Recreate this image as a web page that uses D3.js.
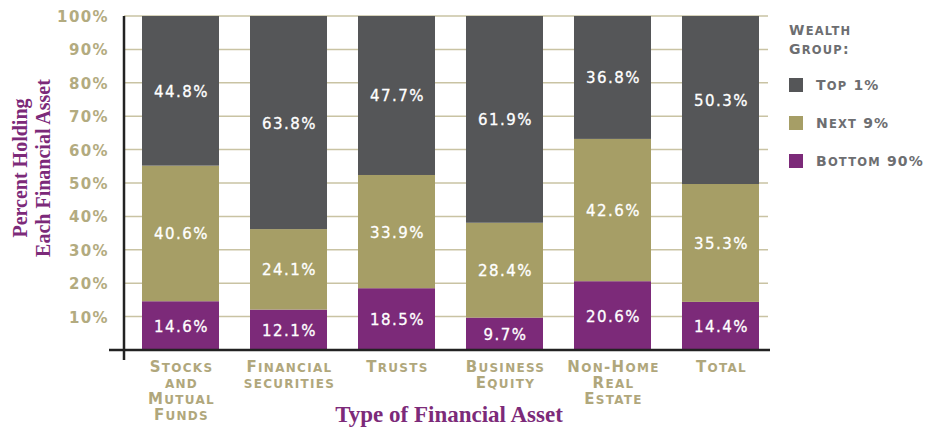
<!DOCTYPE html>
<html><head><meta charset="utf-8">
<script src="https://cdn.jsdelivr.net/npm/d3@7"></script>
<style>body{margin:0;background:#fff}svg{display:block}</style>
</head><body>
<svg id="chart" width="926" height="427"></svg>
<script>
const categories = [["Stocks","and","Mutual","Funds"],["Financial","securities"],["Trusts"],["Business","Equity"],["Non-Home","Real","Estate"],["Total"]];
const catKeys = ["Stocks and Mutual Funds","Financial securities","Trusts","Business Equity","Non-Home Real Estate","Total"];
const bottom90 = [14.6,12.1,18.5,9.7,20.6,14.4];
const next9 = [40.6,24.1,33.9,28.4,42.6,35.3];
const top1 = [44.8,63.8,47.7,61.9,36.8,50.3];
const seriesNames = ["Bottom 90%","Next 9%","Top 1%"];
const yTicks = [10,20,30,40,50,60,70,80,90,100];
const colors = {"Top 1%":"#555658","Next 9%":"#a69e66","Bottom 90%":"#7c2a79"};

const svg = d3.select("#chart");
const x = d3.scaleBand().domain(catKeys).range([142,759]).paddingInner(0.287).paddingOuter(0);
const y = d3.scaleLinear().domain([0,100]).range([350,16]);

// manual small caps: uppercase/other chars large, lowercase chars small uppercase
function smallCaps(sel, str, big, small){
  const parts=[]; let cur=null;
  for(const ch of str){
    const low = ch!==ch.toUpperCase();
    const sz = low?small:big;
    if(!cur||cur.sz!==sz){cur={sz,t:""};parts.push(cur);}
    cur.t+=ch.toUpperCase();
  }
  parts.forEach(p=>sel.append("tspan").attr("font-size",p.sz).text(p.t));
  return sel;
}

// gridlines
svg.append("g").selectAll("line").data(yTicks).join("line")
  .attr("x1",124).attr("x2",768).attr("y1",d=>y(d)).attr("y2",d=>y(d))
  .attr("stroke","#c9c3a3").attr("stroke-width",1.5);

// tick labels
svg.append("g").selectAll("text").data(yTicks).join("text")
  .attr("x",109).attr("y",d=>y(d)+6).attr("text-anchor","end")
  .attr("font-family","DejaVu Sans").attr("font-weight","bold").attr("font-size",15)
  .attr("letter-spacing",1.4).attr("fill","#b3ab80").text(d=>d+"%");

// stacked data
const rows = catKeys.map((c,i)=>({cat:c,"Bottom 90%":bottom90[i],"Next 9%":next9[i],"Top 1%":top1[i]}));
const stack = d3.stack().keys(seriesNames)(rows);
const segTop = v=>y(Math.min(100,v));
const gs = svg.append("g").selectAll("g").data(stack).join("g").attr("fill",d=>colors[d.key]);
gs.selectAll("rect").data(d=>d).join("rect")
  .attr("x",d=>x(d.data.cat)).attr("width",x.bandwidth())
  .attr("y",d=>segTop(d[1])).attr("height",d=>y(d[0])-segTop(d[1]));

// labels in bars
stack.forEach(s=>{
  svg.append("g").selectAll("text").data(s).join("text")
    .attr("x",d=>x(d.data.cat)+x.bandwidth()/2+1)
    .attr("y",d=>(y(d[0])+segTop(d[1]))/2+6)
    .attr("text-anchor","middle").attr("font-family","DejaVu Sans").attr("font-size",15)
    .attr("letter-spacing",1.5).attr("fill","#fff").attr("stroke","#fff").attr("stroke-width",0.3)
    .text(d=>d.data[s.key].toFixed(1)+"%");
});

// axes lines
svg.append("line").attr("x1",109).attr("x2",770).attr("y1",350).attr("y2",350).attr("stroke","#222").attr("stroke-width",2.5);
svg.append("line").attr("x1",124).attr("x2",124).attr("y1",16).attr("y2",360).attr("stroke","#222").attr("stroke-width",2.5);

// category labels
catKeys.forEach((c,i)=>{
  categories[i].forEach((w,j)=>{
    const t = svg.append("text").attr("x",x(c)+x.bandwidth()/2+1).attr("y",372+j*16)
      .attr("text-anchor","middle").attr("font-family","DejaVu Sans").attr("font-weight","bold")
      .attr("letter-spacing",1.3).attr("fill","#b0a77c");
    smallCaps(t,w,15,12);
  });
});

// axis titles
svg.append("text").attr("transform","translate(27,168) rotate(-90)").attr("text-anchor","middle")
  .attr("font-family","Liberation Serif").attr("font-weight","bold").attr("font-size",20).attr("fill","#7c2a79")
  .text("Percent Holding");
svg.append("text").attr("transform","translate(50,168) rotate(-90)").attr("text-anchor","middle")
  .attr("font-family","Liberation Serif").attr("font-weight","bold").attr("font-size",20).attr("fill","#7c2a79")
  .text("Each Financial Asset");
svg.append("text").attr("x",449).attr("y",422).attr("text-anchor","middle")
  .attr("font-family","Liberation Serif").attr("font-weight","bold").attr("font-size",23).attr("fill","#7c2a79")
  .text("Type of Financial Asset");

// legend
const lgAttrs = t=>t.attr("font-family","DejaVu Sans").attr("font-weight","bold")
  .attr("letter-spacing",1.2).attr("fill","#6d6e71");
smallCaps(lgAttrs(svg.append("text").attr("x",789).attr("y",35)),"Wealth",14,11.5);
smallCaps(lgAttrs(svg.append("text").attr("x",789).attr("y",54)),"Group:",14,11.5);
const legItems = ["Top 1%","Next 9%","Bottom 90%"];
legItems.forEach((k,i)=>{
  svg.append("rect").attr("x",789).attr("y",78+i*38).attr("width",14).attr("height",14).attr("fill",colors[k]);
  smallCaps(lgAttrs(svg.append("text").attr("x",816).attr("y",90+i*38)),k,14,11.5);
});
</script>
</body></html>
